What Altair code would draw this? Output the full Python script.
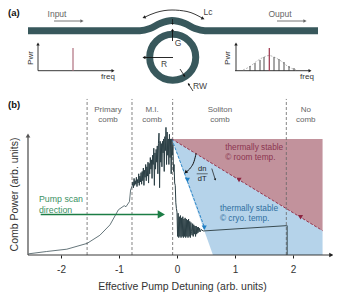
import math
import altair as alt
import pandas as pd

# ---------- panel (b) data: detuning (arb.) vs comb power (arb.) ----------
rise_x = [-2.56,-2.25,-1.90,-1.55,-1.33,-1.155,-1.01,-0.91,-0.88,-0.82,-0.80,-0.77]
rise_p = [0.01,0.03,0.05,0.10,0.17,0.26,0.39,0.425,0.416,0.46,0.56,0.60]

mi_x = [-0.76,-0.75,-0.74,-0.73,-0.72,-0.71,-0.70,-0.69,-0.68,-0.67,-0.66,-0.65,-0.64,-0.63,-0.62,-0.61,
        -0.60,-0.59,-0.58,-0.57,-0.56,-0.55,-0.54,-0.53,-0.52,-0.51,-0.50,-0.49,-0.48,-0.47,-0.46,-0.45,
        -0.44,-0.43,-0.42,-0.41,-0.40,-0.39,-0.38,-0.37,-0.36,-0.35,-0.34,-0.33,-0.32,-0.31,-0.30,-0.29,
        -0.28,-0.27,-0.26,-0.25,-0.24,-0.23,-0.22,-0.21,-0.20,-0.19,-0.18,-0.17,-0.16,-0.15,-0.14,-0.13,
        -0.12,-0.11,-0.10,-0.09]
mi_p = [0.63,0.58,0.66,0.60,0.64,0.61,0.67,0.59,0.65,0.62,0.70,0.60,0.68,0.63,0.71,0.61,
        0.72,0.64,0.75,0.60,0.73,0.67,0.78,0.64,0.76,0.68,0.80,0.62,0.79,0.70,0.84,0.74,
        0.82,0.66,0.86,0.78,0.92,0.60,0.88,0.74,0.91,0.80,0.94,0.70,0.96,1.05,0.58,0.98,
        0.80,0.96,0.76,0.98,0.88,1.00,0.72,1.02,0.90,1.10,0.78,1.06,0.86,1.00,0.78,1.04,
        0.84,1.00,0.70,1.00]
drop_x = [-0.08,-0.07,-0.06,-0.05,-0.04,-0.03,-0.02,-0.01,0.00]
drop_p = [0.86,0.95,0.72,0.78,0.62,0.60,0.45,0.40,0.37]
sol_x = [0.01,0.02,0.03,0.04,0.05,0.06,0.07,0.08,0.09,0.10,0.11,0.12,0.13,0.14,0.15,0.16,0.17,0.18,0.19,
         0.20,0.21,0.22,0.23,0.24,0.25,0.26,0.27,0.28,0.29,0.30,0.31,0.32,0.33,0.34,0.35,0.36,0.37,0.38,0.39,0.40,0.42,0.45]
sol_p = [0.16,0.36,0.15,0.33,0.16,0.34,0.15,0.32,0.16,0.33,0.15,0.31,0.16,0.32,0.15,0.31,0.16,0.30,0.15,
         0.31,0.16,0.29,0.15,0.28,0.20,0.17,0.27,0.16,0.26,0.18,0.25,0.16,0.25,0.18,0.24,0.19,0.24,0.20,0.23,0.20,0.22,0.207]
tail_x = [0.45,1.89,1.90,1.90]
tail_p = [0.207,0.253,0.253,0.0]

red_x = [-0.09,2.51,2.51]
red_p = [1.0,1.0,0.21]
blue_x = [-0.09,2.51,2.51,0.62]
blue_p = [1.0,0.21,0.0,0.0]
bound_x = [-0.075,-0.776,-1.55,1.885]
stage_labels = [(-1.19,"Primary","comb"),(-0.43,"M.I.","comb"),(0.74,"Soliton","comb"),(2.22,"No","comb")]
x_ticks = [-2,-1,0,1,2]

X_DOM = [-2.569, 2.69]
P_DOM = [0.0, 2.129]
SX, SP = 58.0, 116.0
S_X = [28, 333]
S_Y = [255, 8]
FONT = "Liberation Sans"
TEAL = "#38585c"
DARK = "#2b3f45"
GRAY = "#666666"
RED = "#8c2440"
BLUE = "#1f7fc4"
GREEN = "#1c7d45"


def enc(kind, xf="x", yf="y", first=False):
    if kind == "main":
        ax = alt.X(xf, type="quantitative", scale=alt.Scale(domain=X_DOM, nice=False, zero=False), axis=None)
        ay = alt.Y(yf, type="quantitative", scale=alt.Scale(domain=P_DOM, nice=False, zero=False), axis=None)
    else:
        ax = alt.X(xf, type="quantitative", scale=alt.Scale(domain=S_X, nice=False, zero=False), axis=None)
        ay = alt.Y(yf, type="quantitative", scale=alt.Scale(domain=S_Y, nice=False, zero=False), axis=None)
    return ax, ay


def line(kind, xs, ys, color, w=1.0, dash=None, interp="linear", order=True, cap="butt"):
    df = pd.DataFrame({"x": xs, "y": ys, "o": range(len(xs))})
    ax, ay = enc(kind)
    kw = dict(color=color, strokeWidth=w, interpolate=interp, strokeCap=cap)
    if dash:
        kw["strokeDash"] = dash
    return alt.Chart(df).mark_line(**kw).encode(x=ax, y=ay, order=alt.Order("o:Q"))


def area(xs, ys, color):
    df = pd.DataFrame({"x": xs + xs[:1], "y": ys + ys[:1], "o": range(len(xs) + 1)})
    ax, ay = enc("main")
    return alt.Chart(df).mark_line(filled=True, fill=color, stroke=None, interpolate="linear-closed").encode(
        x=ax, y=ay, order=alt.Order("o:Q"))


def head(kind, x, y, ang, color, size=22):
    df = pd.DataFrame({"x": [x], "y": [y]})
    ax, ay = enc(kind)
    return alt.Chart(df).mark_point(shape="triangle-up", filled=True, fill=color, stroke=None,
                                    opacity=1, size=size, angle=ang % 360).encode(x=ax, y=ay)


def arrow(kind, xs, ys, color, w=1.0, size=22, both=False, interp="linear"):
    kx, ky = (SX, SP) if kind == "main" else (1, -1)
    out = [line(kind, xs, ys, color, w, interp=interp)]
    a = math.degrees(math.atan2((xs[-1] - xs[-2]) * kx, (ys[-1] - ys[-2]) * ky))
    out.append(head(kind, xs[-1], ys[-1], a, color, size))
    if both:
        a = math.degrees(math.atan2((xs[0] - xs[1]) * kx, (ys[0] - ys[1]) * ky))
        out.append(head(kind, xs[0], ys[0], a, color, size))
    return out


def text(kind, x, y, s, size=8, color="#555555", align="center", weight="normal", angle=0):
    df = pd.DataFrame({"x": [x], "y": [y], "t": [s]})
    ax, ay = enc(kind)
    kw = dict(font=FONT, fontSize=size, color=color, align=align, baseline="middle", fontWeight=weight)
    if angle:
        kw["angle"] = angle
    return alt.Chart(df).mark_text(**kw).encode(x=ax, y=ay, text="t:N")


layers = []

base_df = pd.DataFrame({"x": x_ticks, "y": [0] * len(x_ticks)})
base = alt.Chart(base_df).mark_point(opacity=0).encode(
    x=alt.X("x:Q", scale=alt.Scale(domain=X_DOM, nice=False, zero=False),
            axis=alt.Axis(values=x_ticks, domain=False, grid=False, tickSize=3, tickColor="#222222",
                          labelFont=FONT, labelFontSize=10, labelColor="#333333", labelPadding=6,
                          labelExpr="toString(datum.value)", title="Effective Pump Detuning (arb. units)",
                          titleFont=FONT, titleFontSize=10.5, titleFontWeight="normal", titleColor="#333333",
                          titleX=154, titleY=26, labelFlush=False)),
    y=alt.Y("y:Q", scale=alt.Scale(domain=P_DOM, nice=False, zero=False),
            axis=alt.Axis(domain=False, ticks=False, labels=False, grid=False,
                          title="Comb Power (arb. units)", titleFont=FONT, titleFontSize=10.5,
                          titleFontWeight="normal", titleColor="#333333",
                          titleX=-9, titleY=186)),
)
layers.append(base)

layers.append(area(red_x, red_p, "#c2929c"))
layers.append(area(blue_x, blue_p, "#b5d3ea"))

for b in bound_x:
    layers.append(line("main", [b, b], [0, 1.345], GRAY, 0.8, dash=[3, 2]))
for x, a, b in stage_labels:
    layers.append(text("main", x, 1.25, a, 8, "#666666"))
    layers.append(text("main", x, 1.165, b, 8, "#666666"))

layers += arrow("main", [-2.569, -2.569], [0, 1.03], "#555555", 1.3, 22)
layers += arrow("main", [-2.569, 2.66], [0, 0], "#222222", 0.9, 22)

layers.append(line("main", [-0.09, 2.51], [1.0, 0.21], RED, 0.9, dash=[3, 1.5]))
layers.append(line("main", [-0.09, 0.48], [1.0, 0.23], BLUE, 0.9, dash=[3, 1.5]))
layers.append(head("main", 1.07, 0.647, 180, RED, 26))
layers.append(head("main", 2.13, 0.325, 180, RED, 26))
layers.append(head("main", 0.18, 0.647, 180, BLUE, 26))
layers.append(head("main", 0.47, 0.235, 180, BLUE, 26))

layers.append(line("main", rise_x, rise_p, "#3f5359", 0.8))
layers.append(line("main", rise_x[-1:] + mi_x + drop_x + sol_x, rise_p[-1:] + mi_p + drop_p + sol_p, DARK, 1.0))
layers.append(line("main", tail_x, tail_p, "#3a4c52", 1.0))

layers.append(line("main", [-2.35, -0.30], [0.35, 0.35], GREEN, 1.5))
layers.append(head("main", -0.27, 0.35, 90, GREEN, 70))
layers.append(text("main", -2.38, 0.48, "Pump scan", 8.8, "#3b9163", "left"))
layers.append(text("main", -2.38, 0.39, "direction", 8.8, "#3b9163", "left"))

layers.append(text("main", 0.83, 0.92, "thermally stable", 8.3, "#8c3550", "left"))
layers.append(text("main", 0.83, 0.835, "\u00a9 room temp.", 8.3, "#8c3550", "left"))
layers.append(text("main", 0.74, 0.395, "thermally stable", 8.3, "#2f6f9f", "left"))
layers.append(text("main", 0.74, 0.31, "\u00a9 cryo. temp.", 8.3, "#2f6f9f", "left"))

layers += arrow("main", [0.33, 0.293, 0.236, 0.15], [0.876, 0.805, 0.753, 0.713], "#111111", 1.0, 14, interp="monotone")
layers.append(text("main", 0.435, 0.745, "dn", 7.5, "#222222"))
layers.append(line("main", [0.34, 0.53], [0.70, 0.70], "#222222", 0.6))
layers.append(text("main", 0.435, 0.655, "dT", 7.5, "#222222"))
layers += arrow("main", [0.60, 0.66], [0.745, 0.65], "#111111", 0.7, 6)

# ---------- panel (a): schematic ----------
wg_x = [28, 140, 150, 160, 172, 185, 195, 205, 318]
wg_y = [30.7, 30.7, 28.5, 23.5, 20.5, 23.5, 28.5, 30.7, 30.7]
layers.append(line("s", wg_x, wg_y, TEAL, 7, interp="monotone"))
ax, ay = enc("s")
layers.append(alt.Chart(pd.DataFrame({"x": [172.7], "y": [57.3]})).mark_point(
    shape="circle", filled=False, stroke=TEAL, strokeWidth=7, size=2124, opacity=1).encode(x=ax, y=ay))

layers.append(text("s", 57, 13.5, "Input", 8.5, "#666666"))
layers.append(text("s", 280, 13.5, "Ouput", 8.5, "#666666"))
layers += arrow("s", [54, 82], [21, 21], "#666666", 0.9, 14)
layers += arrow("s", [277, 305], [21, 21], "#666666", 0.9, 14)
layers += arrow("s", [144, 156, 172, 187, 203], [17.5, 12.5, 10, 11.5, 18.5], "#222222", 0.9, 14, both=True, interp="monotone")
layers.append(text("s", 208, 12, "Lc", 8.5, "#444444"))
layers += arrow("s", [172.5, 172.5], [41, 30], "#111111", 0.9, 10)
layers += arrow("s", [172.5, 172.5], [19, 24], "#111111", 0.7, 6)
layers.append(text("s", 178, 42.5, "G", 8.5, "#444444"))
layers += arrow("s", [173, 144], [57.5, 57.5], "#111111", 0.9, 12)
layers.append(text("s", 164, 64, "R", 8.5, "#444444"))
layers += arrow("s", [180, 184.5], [69, 76], "#111111", 0.8, 7)
layers += arrow("s", [193, 188.5], [91, 84], "#111111", 0.8, 7)
layers.append(text("s", 200, 86, "RW", 8.5, "#444444"))

layers += arrow("s", [38, 113], [70.7, 70.7], "#222222", 0.9, 12)
layers += arrow("s", [38, 38], [70.7, 44], "#222222", 0.9, 12)
layers.append(text("s", 31, 58, "Pwr", 8, "#333333", angle=270))
layers.append(text("s", 108, 76.5, "freq", 8, "#333333"))
layers.append(line("s", [73, 73], [48, 70.7], "#b0707f", 1.2))

comb_x = [250, 255, 260, 264, 274, 279, 284, 289, 294]
comb_top = [66, 63, 60, 57, 57, 59, 62, 66, 68]
env_x = [243, 250, 257, 264, 269, 274, 281, 288, 296]
env_y = [70, 66.5, 61, 57, 55.5, 57, 61, 66.5, 70]
layers += arrow("s", [235, 310], [70.7, 70.7], "#222222", 0.9, 12)
layers += arrow("s", [236, 236], [70.7, 44], "#222222", 0.9, 12)
layers.append(text("s", 228, 58, "Pwr", 8, "#333333", angle=270))
layers.append(text("s", 307, 76.5, "freq", 8, "#333333"))
layers.append(line("s", env_x, env_y, "#888888", 0.6, dash=[2, 1.5], interp="monotone"))
for cx, ct in zip(comb_x, comb_top):
    layers.append(line("s", [cx, cx], [ct, 70.7], "#222222", 0.8))
layers.append(line("s", [269.3, 269.3], [48, 70.7], "#9c3048", 1.2))

layers.append(text("s", 8, 13, "(a)", 9.5, "#111111", "left", "bold"))
layers.append(text("s", 8, 104.5, "(b)", 9.5, "#111111", "left", "bold"))

chart = alt.layer(*layers).resolve_scale(x="independent", y="independent").properties(
    width=305, height=247,
    padding={"left": 20, "top": 0, "right": 0, "bottom": 40},
    autosize=alt.AutoSizeParams(type="none"),
).configure_view(stroke=None)

chart.save("out.html", embed_options={"renderer": "svg", "actions": False})
